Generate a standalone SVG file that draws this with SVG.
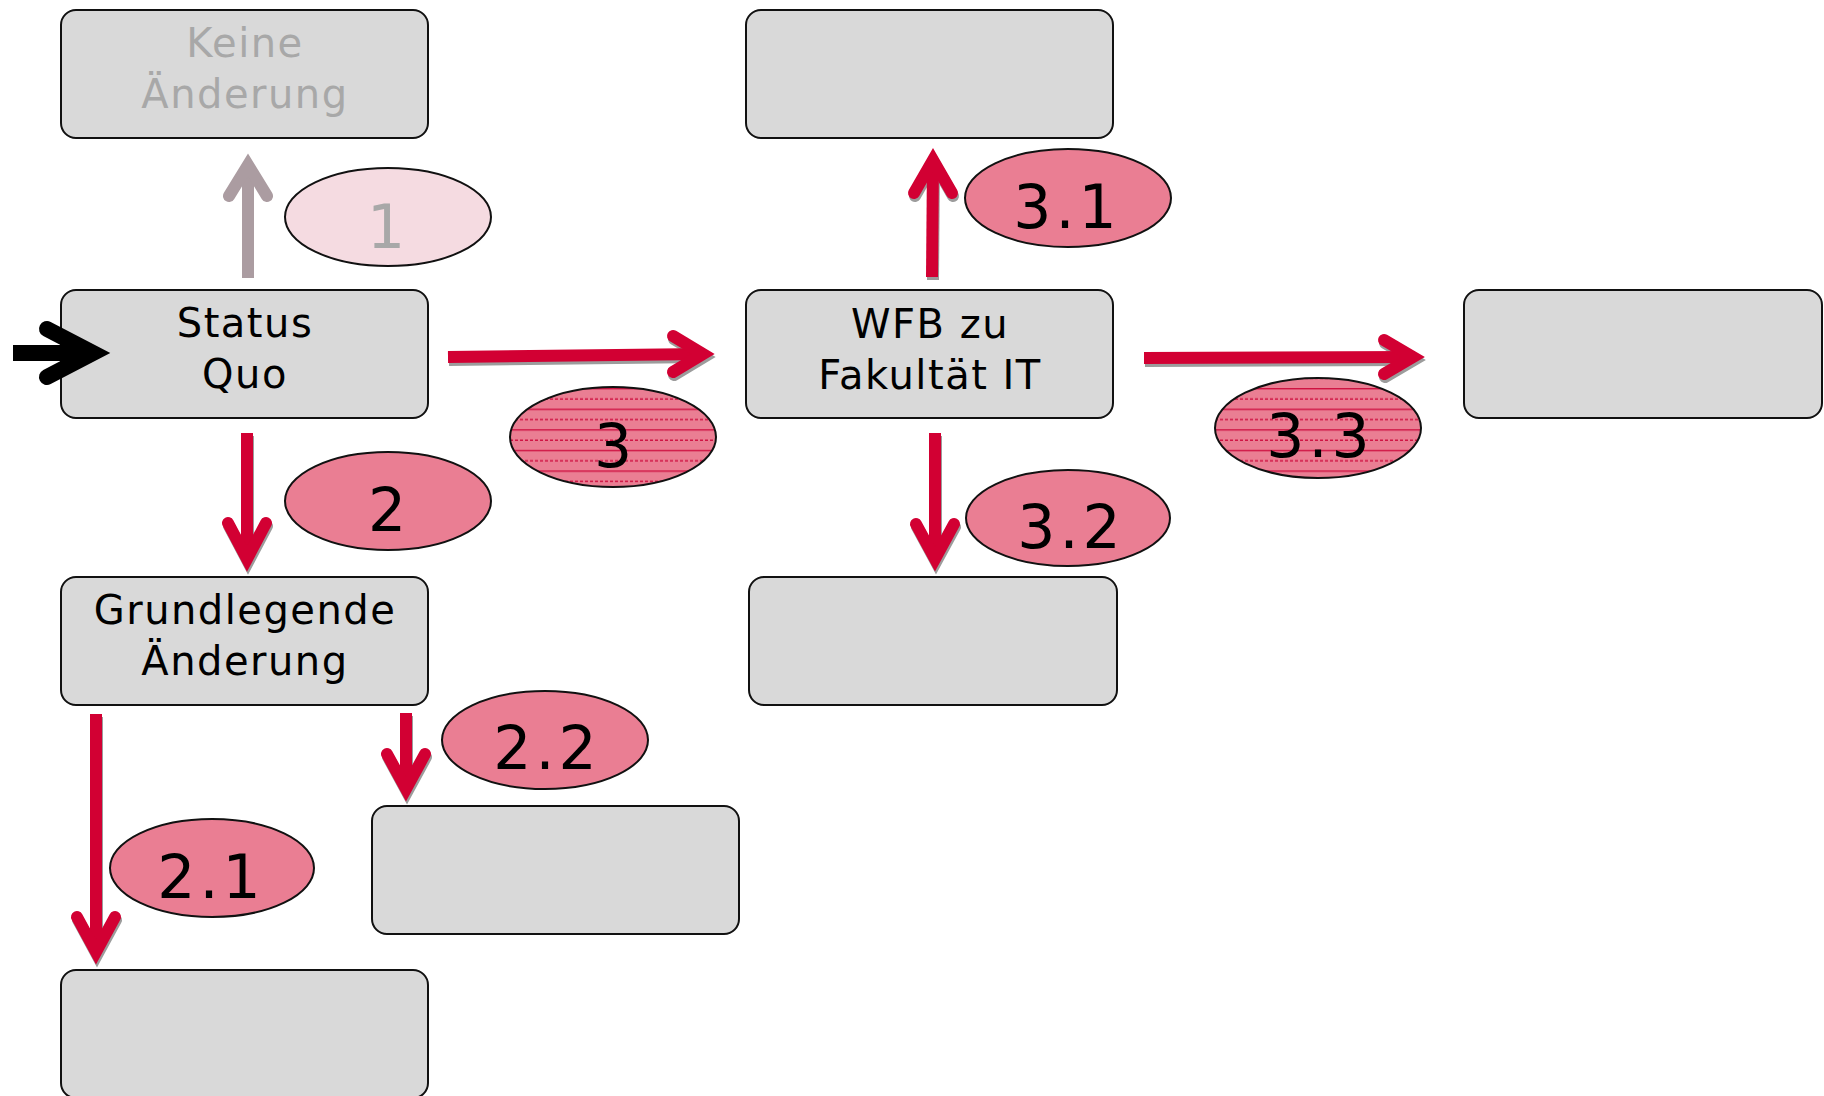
<svg xmlns="http://www.w3.org/2000/svg" width="1824" height="1096" viewBox="0 0 1824 1096">
<style>
.box rect{fill:#d9d9d9;stroke:#111;stroke-width:2}
.lbl{font-family:"DejaVu Sans","Liberation Sans",sans-serif;font-size:40px;letter-spacing:1.5px;text-anchor:middle;fill:#000}
.num{font-family:"DejaVu Sans","Liberation Sans",sans-serif;font-size:60px;letter-spacing:4px;text-anchor:middle;fill:#000}
text.gray{fill:#a8a8a8}
.oval{fill:#ea7e93;stroke:#111;stroke-width:2}
.oval.lined{fill:url(#lines)}
.oval.light{fill:#f5dbe1}
.red path{fill:none;stroke:#d20033;stroke-width:12;stroke-linecap:butt;stroke-linejoin:miter}
.red path.h{stroke-linecap:round}
.shadow path{fill:none;stroke:#9c9c9c;stroke-width:12;stroke-linejoin:miter}
.shadow path.h{stroke-linecap:round}
</style>
<defs>
<pattern id="lines" patternUnits="userSpaceOnUse" x="0" y="388" width="20" height="20.6">
<rect width="20" height="20.6" fill="#ea7e93"/>
<line x1="0" y1="0.7" x2="20" y2="0.7" stroke="#cf1242" stroke-width="1.4"/>
<line x1="0" y1="11" x2="20" y2="11" stroke="#cf1242" stroke-width="1.4" stroke-dasharray="3 2"/>
</pattern>
</defs>

<g id="node-keine" class="box">
  <rect x="61" y="10" width="367" height="128" rx="15"/>
  <text class="lbl gray" x="245" y="57">Keine</text>
  <text class="lbl gray" x="245" y="108">Änderung</text>
</g>
<g id="node-status" class="box">
  <rect x="61" y="290" width="367" height="128" rx="15"/>
  <text class="lbl" x="245" y="337">Status</text>
  <text class="lbl" x="245" y="388">Quo</text>
</g>
<g id="node-grund" class="box">
  <rect x="61" y="577" width="367" height="128" rx="15"/>
  <text class="lbl" x="245" y="624">Grundlegende</text>
  <text class="lbl" x="245" y="675">Änderung</text>
</g>
<g id="node-2-1" class="box"><rect x="61" y="970" width="367" height="128" rx="15"/></g>
<g id="node-2-2" class="box"><rect x="372" y="806" width="367" height="128" rx="15"/></g>
<g id="node-wfb" class="box">
  <rect x="746" y="290" width="367" height="128" rx="15"/>
  <text class="lbl" x="930" y="338">WFB zu</text>
  <text class="lbl" x="930" y="389">Fakultät IT</text>
</g>
<g id="node-3-1" class="box"><rect x="746" y="10" width="367" height="128" rx="15"/></g>
<g id="node-3-2" class="box"><rect x="749" y="577" width="368" height="128" rx="15"/></g>
<g id="node-3-3" class="box"><rect x="1464" y="290" width="358" height="128" rx="15"/></g>

<g id="label-1"><ellipse class="oval light" cx="388" cy="217" rx="103" ry="49"/><text class="num gray" x="388" y="248">1</text></g>
<g id="label-2"><ellipse class="oval" cx="388" cy="501" rx="103" ry="49"/><text class="num" x="389" y="531">2</text></g>
<g id="label-3"><ellipse class="oval lined" cx="613" cy="437" rx="103" ry="50"/><text class="num" x="615" y="467">3</text></g>
<g id="label-2-1"><ellipse class="oval" cx="212" cy="868" rx="102" ry="49"/><text class="num" x="211" y="898">2.1</text></g>
<g id="label-2-2"><ellipse class="oval" cx="545" cy="740" rx="103" ry="49"/><text class="num" x="547" y="769">2.2</text></g>
<g id="label-3-1"><ellipse class="oval" cx="1068" cy="198" rx="103" ry="49"/><text class="num" x="1067" y="228">3.1</text></g>
<g id="label-3-2"><ellipse class="oval" cx="1068" cy="518" rx="102" ry="48"/><text class="num" x="1071" y="548">3.2</text></g>
<g id="label-3-3"><ellipse class="oval lined" cx="1318" cy="428" rx="103" ry="50"/><text class="num" x="1320" y="457">3.3</text></g>

<g id="connectors">
  <g class="shadow" transform="translate(1,3)">
    <path d="M448,357 L703,354"/><path class="h" d="M673,336 L703,354 L673,372"/>
    <path d="M1144,358 L1413,357"/><path class="h" d="M1384,340 L1413,357 L1384,374"/>
    <path d="M247,433 L247,559"/><path class="h" d="M228,523 L247,559 L266,523"/>
    <path d="M935,433 L935,559"/><path class="h" d="M916,524 L935,559 L954,524"/>
    <path d="M96,714 L96,952"/><path class="h" d="M77,917 L96,952 L115,917"/>
    <path d="M406,713 L406,789"/><path class="h" d="M387,754 L406,789 L425,754"/>
    <path d="M932,277 L933,160"/><path class="h" d="M914,193 L933,160 L952,193"/>
  </g>
  <g id="arrow-1">
    <path d="M248,278 L248,165" fill="none" stroke="#ab9ca1" stroke-width="12"/>
    <path d="M229,196 L248,165 L267,196" fill="none" stroke="#ab9ca1" stroke-width="12" stroke-linecap="round" stroke-linejoin="miter"/>
  </g>
  <g id="arrow-entry">
    <path d="M13,353 L93,353" fill="none" stroke="#000" stroke-width="16"/>
    <path d="M47,329 L93,353 L47,377" fill="none" stroke="#000" stroke-width="16" stroke-linecap="round" stroke-linejoin="miter"/>
  </g>
  <g class="red">
    <g id="arrow-3"><path d="M448,357 L703,354"/><path class="h" d="M673,336 L703,354 L673,372"/></g>
    <g id="arrow-3-3"><path d="M1144,358 L1413,357"/><path class="h" d="M1384,340 L1413,357 L1384,374"/></g>
    <g id="arrow-2"><path d="M247,433 L247,559"/><path class="h" d="M228,523 L247,559 L266,523"/></g>
    <g id="arrow-3-2"><path d="M935,433 L935,559"/><path class="h" d="M916,524 L935,559 L954,524"/></g>
    <g id="arrow-2-1"><path d="M96,714 L96,952"/><path class="h" d="M77,917 L96,952 L115,917"/></g>
    <g id="arrow-2-2"><path d="M406,713 L406,789"/><path class="h" d="M387,754 L406,789 L425,754"/></g>
    <g id="arrow-3-1"><path d="M932,277 L933,160"/><path class="h" d="M914,193 L933,160 L952,193"/></g>
  </g>
</g>
</svg>
